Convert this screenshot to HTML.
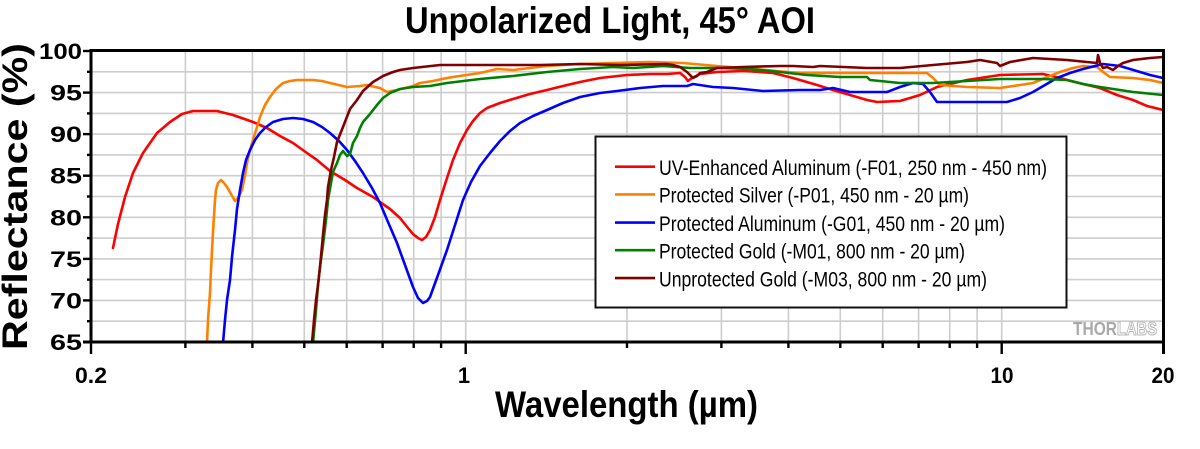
<!DOCTYPE html>
<html>
<head>
<meta charset="utf-8">
<style>
html,body{margin:0;padding:0;background:#fff;}
svg{display:block;}
text{font-family:"Liberation Sans",Arial,sans-serif;}
</style>
</head>
<body>
<svg width="1200" height="449" viewBox="0 0 1200 449" xmlns="http://www.w3.org/2000/svg">
<rect x="0" y="0" width="1200" height="449" fill="#fff"/>
<defs>
<clipPath id="pc"><rect x="91" y="51" width="1072" height="292"/></clipPath>
</defs>

<!-- Title -->
<text x="405" y="33" font-size="37" font-weight="bold" textLength="410" lengthAdjust="spacingAndGlyphs" fill="#000">Unpolarized Light, 45° AOI</text>

<!-- grid -->
<g stroke="#cdcdcd" stroke-width="1.6">
<line x1="91" x2="1163" y1="71.8" y2="71.8"/>
<line x1="91" x2="1163" y1="92.6" y2="92.6"/>
<line x1="91" x2="1163" y1="113.4" y2="113.4"/>
<line x1="91" x2="1163" y1="134.1" y2="134.1"/>
<line x1="91" x2="1163" y1="154.9" y2="154.9"/>
<line x1="91" x2="1163" y1="175.7" y2="175.7"/>
<line x1="91" x2="1163" y1="196.5" y2="196.5"/>
<line x1="91" x2="1163" y1="217.3" y2="217.3"/>
<line x1="91" x2="1163" y1="238.1" y2="238.1"/>
<line x1="91" x2="1163" y1="258.9" y2="258.9"/>
<line x1="91" x2="1163" y1="279.6" y2="279.6"/>
<line x1="91" x2="1163" y1="300.4" y2="300.4"/>
<line x1="91" x2="1163" y1="321.2" y2="321.2"/>
<line y1="51" y2="342" x1="185.4" x2="185.4"/>
<line y1="51" y2="342" x1="252.4" x2="252.4"/>
<line y1="51" y2="342" x1="304.3" x2="304.3"/>
<line y1="51" y2="342" x1="346.7" x2="346.7"/>
<line y1="51" y2="342" x1="382.6" x2="382.6"/>
<line y1="51" y2="342" x1="413.7" x2="413.7"/>
<line y1="51" y2="342" x1="441.1" x2="441.1"/>
<line y1="51" y2="342" x1="465.7" x2="465.7"/>
<line y1="51" y2="342" x1="627.0" x2="627.0"/>
<line y1="51" y2="342" x1="721.4" x2="721.4"/>
<line y1="51" y2="342" x1="788.4" x2="788.4"/>
<line y1="51" y2="342" x1="840.3" x2="840.3"/>
<line y1="51" y2="342" x1="882.7" x2="882.7"/>
<line y1="51" y2="342" x1="918.6" x2="918.6"/>
<line y1="51" y2="342" x1="949.7" x2="949.7"/>
<line y1="51" y2="342" x1="977.1" x2="977.1"/>
<line y1="51" y2="342" x1="1001.7" x2="1001.7"/>
</g>

<!-- THORLABS logo -->
<text x="1073" y="335" font-size="18" font-weight="bold" fill="#a9a9a9" textLength="44" lengthAdjust="spacingAndGlyphs">THOR</text>
<text x="1117" y="335" font-size="18" font-weight="bold" fill="#fff" stroke="#b5b5b5" stroke-width="1" textLength="40" lengthAdjust="spacingAndGlyphs">LABS</text>

<!-- curves -->
<g clip-path="url(#pc)" fill="none" stroke-width="2.6" stroke-linejoin="round" stroke-linecap="round">
<polyline stroke="#ff0000" points="113,248 118,224 125,197 133,173 143,153 157,133 170,122 182,114 193,111 217,111 233,115 253,122 267,128 280,136 293,143 307,153 317,160 330,171 345,180 357,188 373,197 380,202 390,209 400,218 408,228 413,234 418,238 422,240 426,237 430,230 435,217 440,200 447,178 453,160 460,143 467,130 473,121 480,113 487,108 500,103 513,99 530,94 547,90 563,86 580,82 600,78 627,75 650,74 667,74 680,73 685,77 688,81 692,78 700,74 717,72 743,71 760,72 773,73 793,78 817,85 833,90 850,95 867,100 877,102 900,101 920,95 937,87 950,84 967,80 1000,75 1043,74 1060,78 1067,80 1083,84 1100,88 1117,95 1133,100 1147,106 1163,110"/>
<polyline stroke="#ff8000" points="207,343 208,320 210,293 211,270 212,250 213,232 215,200 216,190 218,183 221,180 224,183 227,187 231,194 235,201 238,198 242,190 245,175 247,163 250,150 253,140 257,127 260,117 265,105 270,97 276,89 283,83 290,81 297,80 313,80 322,81 330,83 347,87 360,86 367,85 375,87 380,88 387,92 397,90 413,86 420,83 433,81 447,78 453,77 480,73 497,69 513,70 547,66 580,64 613,63 650,62 683,63 717,66 743,68 787,72 800,73 867,73 927,73 933,78 940,85 967,87 1000,88 1020,85 1033,83 1045,78 1060,72 1073,68 1083,66 1097,67 1103,72 1110,77 1133,78 1150,80 1163,83"/>
<polyline stroke="#0000ff" points="223,343 225,320 227,300 230,280 232,257 235,230 237,209 240,190 243,173 246,160 250,150 255,140 260,133 266,127 273,122 283,119 293,118 303,119 313,122 322,127 330,133 339,141 347,150 355,161 363,173 372,188 380,203 388,222 397,243 405,265 413,287 418,298 423,303 427,301 430,297 438,275 447,250 455,225 463,200 471,182 480,166 490,153 500,141 510,131 520,123 533,116 547,110 563,103 580,97 600,93 617,91 640,88 663,86 687,86 693,84 713,87 733,88 763,91 800,90 820,90 833,88 850,92 887,92 900,87 913,83 923,84 930,92 937,102 1007,102 1020,98 1033,92 1045,85 1057,78 1070,73 1083,69 1103,64 1120,66 1140,72 1150,75 1163,78"/>
<polyline stroke="#008000" points="313,343 316,310 318,285 320,267 323,245 326,220 328,200 331,183 333,172 337,163 340,155 343,151 347,156 350,154 353,143 357,136 360,128 363,122 370,114 377,105 383,98 390,93 400,89 413,87 430,86 447,83 480,79 513,76 547,72 580,69 613,67 633,68 663,66 690,68 720,68 750,69 780,72 807,75 840,77 867,77 870,80 900,83 933,83 967,81 1000,79 1043,79 1067,80 1083,84 1100,87 1133,92 1163,95"/>
<polyline stroke="#800000" points="312,343 314,320 316,300 318,285 320,267 323,235 325,215 327,200 328,187 331,170 334,157 337,142 343,127 350,109 357,100 363,91 373,82 383,76 393,72 400,70 413,68 440,65 480,65 540,65 580,64 620,65 667,64 673,65 680,67 687,72 690,75 693,78 697,76 700,73 707,72 717,68 743,67 780,66 793,66 813,67 820,66 867,68 900,68 933,65 967,62 980,60 997,63 1000,66 1010,62 1033,58 1067,60 1097,63 1098,55 1100,63 1103,68 1107,67 1113,70 1118,66 1123,63 1133,60 1150,58 1163,57"/>
</g>

<!-- frame -->
<g stroke="#000" fill="none">
<line x1="91" y1="50.5" x2="1164.5" y2="50.5" stroke-width="3"/>
<line x1="1163.5" y1="49" x2="1163.5" y2="354" stroke-width="3"/>
<line x1="91" y1="49" x2="91" y2="343.5" stroke-width="3"/>
<line x1="83" y1="342" x2="1165" y2="342" stroke-width="3"/>
</g>

<!-- y ticks -->
<g stroke="#000" stroke-width="2.4">
<line x1="83" x2="91" y1="51" y2="51"/>
<line x1="87" x2="91" y1="71.8" y2="71.8"/>
<line x1="83" x2="91" y1="92.6" y2="92.6"/>
<line x1="87" x2="91" y1="113.4" y2="113.4"/>
<line x1="83" x2="91" y1="134.1" y2="134.1"/>
<line x1="87" x2="91" y1="154.9" y2="154.9"/>
<line x1="83" x2="91" y1="175.7" y2="175.7"/>
<line x1="87" x2="91" y1="196.5" y2="196.5"/>
<line x1="83" x2="91" y1="217.3" y2="217.3"/>
<line x1="87" x2="91" y1="238.1" y2="238.1"/>
<line x1="83" x2="91" y1="258.9" y2="258.9"/>
<line x1="87" x2="91" y1="279.6" y2="279.6"/>
<line x1="83" x2="91" y1="300.4" y2="300.4"/>
<line x1="87" x2="91" y1="321.2" y2="321.2"/>
</g>
<!-- x ticks -->
<g stroke="#000" stroke-width="2.4">
<line y1="342" y2="354" x1="91" x2="91"/>
<line y1="342" y2="348" x1="185.4" x2="185.4"/>
<line y1="342" y2="348" x1="252.4" x2="252.4"/>
<line y1="342" y2="348" x1="304.3" x2="304.3"/>
<line y1="342" y2="348" x1="346.7" x2="346.7"/>
<line y1="342" y2="348" x1="382.6" x2="382.6"/>
<line y1="342" y2="348" x1="413.7" x2="413.7"/>
<line y1="342" y2="348" x1="441.1" x2="441.1"/>
<line y1="342" y2="354" x1="465.7" x2="465.7"/>
<line y1="342" y2="348" x1="627.0" x2="627.0"/>
<line y1="342" y2="348" x1="721.4" x2="721.4"/>
<line y1="342" y2="348" x1="788.4" x2="788.4"/>
<line y1="342" y2="348" x1="840.3" x2="840.3"/>
<line y1="342" y2="348" x1="882.7" x2="882.7"/>
<line y1="342" y2="348" x1="918.6" x2="918.6"/>
<line y1="342" y2="348" x1="949.7" x2="949.7"/>
<line y1="342" y2="348" x1="977.1" x2="977.1"/>
<line y1="342" y2="354" x1="1001.7" x2="1001.7"/>
</g>

<!-- y labels -->
<g font-size="22" font-weight="bold" fill="#000" text-anchor="end">
<text x="82" y="59" textLength="43" lengthAdjust="spacingAndGlyphs">100</text>
<text x="82" y="100.6" textLength="32" lengthAdjust="spacingAndGlyphs">95</text>
<text x="82" y="142.1" textLength="32" lengthAdjust="spacingAndGlyphs">90</text>
<text x="82" y="183.7" textLength="32" lengthAdjust="spacingAndGlyphs">85</text>
<text x="82" y="225.3" textLength="32" lengthAdjust="spacingAndGlyphs">80</text>
<text x="82" y="266.9" textLength="32" lengthAdjust="spacingAndGlyphs">75</text>
<text x="82" y="308.4" textLength="32" lengthAdjust="spacingAndGlyphs">70</text>
<text x="82" y="350" textLength="32" lengthAdjust="spacingAndGlyphs">65</text>
</g>

<!-- x labels -->
<g font-size="22" font-weight="bold" fill="#000" text-anchor="middle">
<text x="91" y="383" textLength="32" lengthAdjust="spacingAndGlyphs">0.2</text>
<text x="464" y="383">1</text>
<text x="1002" y="383" textLength="23" lengthAdjust="spacingAndGlyphs">10</text>
<text x="1163" y="383" textLength="23" lengthAdjust="spacingAndGlyphs">20</text>
</g>

<!-- axis titles -->
<text x="495" y="417" font-size="37" font-weight="bold" fill="#000" textLength="263" lengthAdjust="spacingAndGlyphs">Wavelength (µm)</text>
<text x="27" y="196.5" font-size="35" font-weight="bold" fill="#000" text-anchor="middle" textLength="307" lengthAdjust="spacingAndGlyphs" transform="rotate(-90 27 196.5)">Reflectance (%)</text>

<!-- legend -->
<rect x="595.5" y="136.5" width="471" height="171" fill="#fff" stroke="#111" stroke-width="2"/>
<g stroke-width="2.6">
<line x1="615" x2="655" y1="166.7" y2="166.7" stroke="#ff0000"/>
<line x1="615" x2="655" y1="194.4" y2="194.4" stroke="#ff8000"/>
<line x1="615" x2="655" y1="222.6" y2="222.6" stroke="#0000ff"/>
<line x1="615" x2="655" y1="250.2" y2="250.2" stroke="#008000"/>
<line x1="615" x2="655" y1="278.1" y2="278.1" stroke="#800000"/>
</g>
<g font-size="21" fill="#000">
<text x="659" y="175" textLength="388" lengthAdjust="spacingAndGlyphs">UV-Enhanced Aluminum (-F01, 250 nm - 450 nm)</text>
<text x="659" y="202.7" textLength="310" lengthAdjust="spacingAndGlyphs">Protected Silver (-P01, 450 nm - 20 µm)</text>
<text x="659" y="230.9" textLength="346" lengthAdjust="spacingAndGlyphs">Protected Aluminum (-G01, 450 nm - 20 µm)</text>
<text x="659" y="258.5" textLength="306" lengthAdjust="spacingAndGlyphs">Protected Gold (-M01, 800 nm - 20 µm)</text>
<text x="659" y="286.4" textLength="328" lengthAdjust="spacingAndGlyphs">Unprotected Gold (-M03, 800 nm - 20 µm)</text>
</g>
</svg>
</body>
</html>
